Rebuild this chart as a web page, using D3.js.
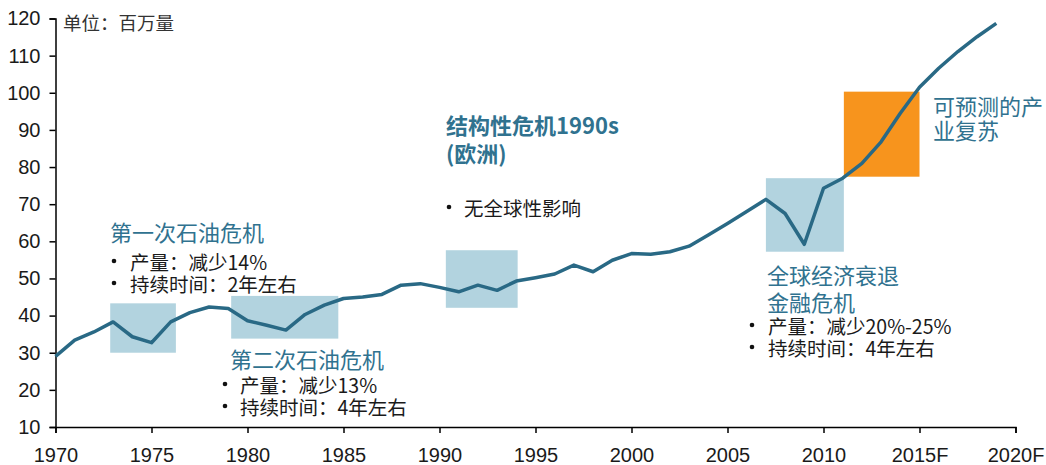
<!DOCTYPE html>
<html>
<head>
  <meta charset="utf-8">
  <script src="https://d3js.org/d3.v7.min.js"></script>
  <style>
    html, body { margin: 0; padding: 0; background: #fff; overflow: hidden; }
    svg { display: block; }
  </style>
</head>
<body>
  <svg></svg>
  <script>
    // output in millions
    var years = d3.range(1970, 2020);
    var output = [29.0, 33.4, 35.6, 38.3, 34.3, 32.7, 38.3, 40.8, 42.3, 41.9,
                  38.6, 37.4, 36.1, 40.3, 42.8, 44.6, 45.0, 45.7, 48.2, 48.6,
                  47.6, 46.4, 48.2, 46.8, 49.3, 50.2, 51.2, 53.6, 51.8, 54.9,
                  56.7, 56.5, 57.2, 58.7, 61.7, 64.8, 68.0, 71.3, 67.5, 59.2,
                  74.3, 77.0, 81.0, 86.8, 94.5, 101.5, 106.6, 111.1, 115.1, 118.7];
    var xTicks = [1970, 1975, 1980, 1985, 1990, 1995, 2000, 2005, 2010, 2015, 2020];
    var xTickLabels = ["1970", "1975", "1980", "1985", "1990", "1995", "2000", "2005", "2010", "2015F", "2020F"];
    var yTicks = [10, 20, 30, 40, 50, 60, 70, 80, 90, 100, 110, 120];

    // shaded periods: [start year, end year, low, high]
    var crisisBoxes = [
      [1972.85, 1976.27, 30.0, 43.3],
      [1979.15, 1984.73, 33.8, 45.3],
      [1990.33, 1994.07, 42.1, 57.6],
      [2007.0, 2011.06, 57.2, 77.0]
    ];
    var recoveryBox = [2011.06, 2015.0, 77.4, 100.3];

    var width = 1046, height = 465;
    var blue = "#296985", titleBlue = "#30728f", boxBlue = "#b2d3df", orange = "#f7941d";

    var svg = d3.select("svg").attr("width", width).attr("height", height);

    var x = d3.scaleLinear().domain([1970, 2020]).range([55.5, 1015.5]);
    var y = d3.scaleLinear().domain([10, 120]).range([427, 18.5]);

    // boxes below the line
    svg.append("g").selectAll("rect")
      .data(crisisBoxes)
      .join("rect")
      .attr("x", d => x(d[0]))
      .attr("width", d => x(d[1]) - x(d[0]))
      .attr("y", d => y(d[3]))
      .attr("height", d => y(d[2]) - y(d[3]))
      .attr("fill", boxBlue);

    svg.append("rect")
      .attr("x", x(recoveryBox[0]))
      .attr("width", x(recoveryBox[1]) - x(recoveryBox[0]))
      .attr("y", y(recoveryBox[3]))
      .attr("height", y(recoveryBox[2]) - y(recoveryBox[3]))
      .attr("fill", orange);

    // axes
    function styleAxis(g) {
      g.attr("font-size", 20).attr("font-family", "'Liberation Sans', Arial, sans-serif");
      g.select(".domain").attr("stroke", "#000").attr("stroke-width", 1.5);
      g.selectAll(".tick line").attr("stroke", "#000").attr("stroke-width", 1.5);
      g.selectAll(".tick text").attr("fill", "#1a1a1a");
    }

    var xAxis = d3.axisBottom(x)
      .tickValues(xTicks)
      .tickFormat((d, i) => xTickLabels[i])
      .tickSize(6)
      .tickPadding(15);
    svg.append("g").attr("transform", "translate(0," + y(10) + ")").call(xAxis).call(styleAxis);

    var yAxis = d3.axisLeft(y)
      .tickValues(yTicks)
      .tickSize(6)
      .tickPadding(9);
    svg.append("g").attr("transform", "translate(" + x(1970) + ",0)").call(yAxis).call(styleAxis);

    // the series
    var line = d3.line().x((d, i) => x(years[i])).y(d => y(d));
    svg.append("path")
      .datum(output)
      .attr("d", line)
      .attr("fill", "none")
      .attr("stroke", blue)
      .attr("stroke-width", 3.5)
      .attr("stroke-linejoin", "round");

    // annotations
    var cjk = "'Noto Sans CJK SC', sans-serif";
    function label(tx, ty, text, opts) {
      opts = opts || {};
      return svg.append("text")
        .attr("x", tx).attr("y", ty)
        .attr("dominant-baseline", "central")
        .attr("font-family", cjk)
        .attr("font-size", opts.size || 19.5)
        .attr("font-weight", opts.weight || "normal")
        .attr("fill", opts.color || "#1a1a1a")
        .text(text);
    }
    function bullets(bx, tx, ys, lines) {
      lines.forEach(function (t, i) {
        svg.append("circle").attr("cx", bx).attr("cy", ys[i]).attr("r", 2.3).attr("fill", "#111");
        label(tx, ys[i], t, {size: 19.5});
      });
    }

    label(63, 22, "单位：百万量", {size: 18.5, color: "#333"});

    label(110, 231, "第一次石油危机", {size: 22, color: titleBlue});
    bullets(114, 130, [261, 283], ["产量：减少14%", "持续时间：2年左右"]);

    label(230, 358, "第二次石油危机", {size: 22, color: titleBlue});
    bullets(225, 240, [384, 406], ["产量：减少13%", "持续时间：4年左右"]);

    label(446, 124, "结构性危机1990s", {size: 22, weight: "bold", color: titleBlue});
    label(446, 152, "(欧洲)", {size: 22, weight: "bold", color: titleBlue});
    bullets(449, 464, [207], ["无全球性影响"]);

    label(767, 274, "全球经济衰退", {size: 22, color: titleBlue});
    label(767, 301, "金融危机", {size: 22, color: titleBlue});
    bullets(752, 768, [325, 347], ["产量：减少20%-25%", "持续时间：4年左右"]);

    label(933, 105, "可预测的产", {size: 22, color: titleBlue});
    label(933, 129, "业复苏", {size: 22, color: titleBlue});
  </script>
</body>
</html>
